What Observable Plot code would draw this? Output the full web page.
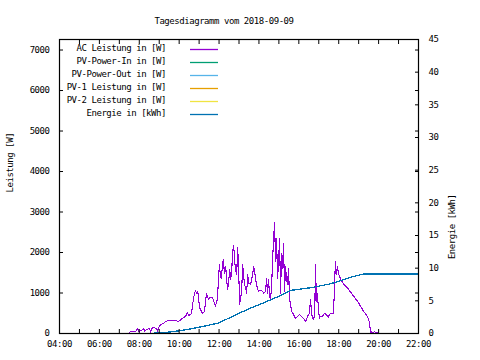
<!DOCTYPE html>
<html><head><meta charset="utf-8">
<script src="https://cdn.jsdelivr.net/npm/d3@7"></script>
<script src="https://cdn.jsdelivr.net/npm/@observablehq/plot@0.6"></script>
<style>
body{margin:0;background:#fff;}
</style>
</head><body><div id="chart"></div>
<script>
const title = "Tagesdiagramm vom 2018-09-09";
const yLabel = "Leistung [W]";
const y2Label = "Energie [kWh]";
const seriesLabels = ["AC Leistung in [W]", "PV-Power-In in [W]", "PV-Power-Out in [W]", "PV-1 Leistung in [W]", "PV-2 Leistung in [W]", "Energie in [kWh]"];
const seriesColors = ["#9400d3", "#009e73", "#56b4e9", "#e69f00", "#f0e442", "#0072b2"];

const acTime = ["07:28","07:34","07:49","07:55","07:58","08:07","08:13","08:16","08:22","08:31","08:34","08:37","08:43","08:52","08:55","08:58","09:04","09:13","09:19","09:28","09:49","09:58","10:10","10:19","10:25","10:28","10:34","10:37","10:40","10:43","10:49","10:52","10:55","10:58","11:01","11:10","11:16","11:22","11:28","11:34","11:40","11:43","11:49","11:55","11:58","12:01","12:04","12:07","12:10","12:13","12:16","12:20","12:23","12:26","12:29","12:32","12:35","12:38","12:41","12:44","12:47","12:50","12:53","12:56","12:59","13:02","13:05","13:08","13:11","13:14","13:17","13:20","13:23","13:26","13:29","13:35","13:38","13:41","13:44","13:47","13:50","13:56","13:59","14:05","14:11","14:14","14:20","14:23","14:26","14:29","14:32","14:35","14:38","14:41","14:44","14:47","14:50","14:53","14:56","14:59","15:02","15:05","15:08","15:11","15:14","15:17","15:20","15:23","15:26","15:29","15:32","15:35","15:38","15:44","15:50","15:56","16:02","16:08","16:14","16:20","16:23","16:29","16:32","16:35","16:38","16:41","16:44","16:48","16:50","16:53","16:56","16:59","17:02","17:05","17:11","17:17","17:23","17:29","17:32","17:38","17:44","17:47","17:50","17:53","17:56","17:59","18:06","18:15","18:27","18:36","18:45","18:57","19:06","19:15","19:24","19:30","19:33","19:36","19:39","19:42","19:48","19:51","19:57","20:00"];
const acPower = [0,50,50,124,50,74,124,50,99,124,25,124,149,124,50,149,223,248,298,322,322,298,372,422,521,446,471,496,670,868,1066,992,1042,942,645,496,546,992,843,893,893,818,670,843,1290,1711,1414,1364,1662,1835,1488,1662,1290,1091,1290,1587,1339,1538,2034,2182,1786,1538,1463,2133,1538,719,893,1042,1711,1414,1215,1116,992,1463,1240,1215,1339,1463,1662,1538,1339,1091,1042,1066,1042,992,1042,1364,992,1339,893,843,1166,1786,2331,2728,1786,2356,1364,1736,2356,992,1984,1612,2232,1042,1662,1339,1215,1612,868,719,546,471,372,422,471,422,372,298,347,471,496,843,546,372,347,471,1711,794,992,595,372,422,422,496,471,397,471,496,496,1042,1786,1463,1662,1488,1339,1215,1116,1017,918,794,670,546,446,347,248,0,50,0,50,0,25,0];

const energyTime = ["08:28","09:19","09:58","10:34","11:04","11:58","12:44","13:05","13:35","14:14","15:05","15:35","16:35","17:35","18:06","18:36","19:15","22:00"];
const energyKWh = [0,0.15,0.4,0.7,1.0,1.6,2.7,3.2,3.9,4.7,5.8,6.6,7.0,7.6,8.1,8.6,9.12,9.12];

const xTicks = ["04:00","05:00","06:00","07:00","08:00","09:00","10:00","11:00","12:00","13:00","14:00","15:00","16:00","17:00","18:00","19:00","20:00","21:00","22:00"];
const xDomain = ["04:00","22:00"];
const yTicks = [0,1000,2000,3000,4000,5000,6000,7000];
const y2Ticks = [0,5,10,15,20,25,30,35,40,45];
const yMax = 7260;
const y2Max = 45;

const parse = d3.utcParse("%H:%M");
const fmt = d3.utcFormat("%H:%M");
const k = yMax / y2Max;
const ac = acTime.map((t, i) => ({t: parse(t), v: acPower[i]}));
const en = energyTime.map((t, i) => ({t: parse(t), v: energyKWh[i] * k}));
const xt = xTicks.map(parse);
const font = "'DejaVu Sans Mono', monospace";

const plot = Plot.plot({
  width: 480, height: 360,
  marginTop: 39, marginBottom: 27, marginLeft: 59, marginRight: 62,
  style: {fontFamily: font, fontSize: "9px", letterSpacing: "-0.45px", color: "#000", background: "#fff"},
  x: {type: "utc", domain: xDomain.map(parse)},
  y: {domain: [0, yMax]},
  marks: [
    Plot.line(ac, {x: "t", y: "v", stroke: seriesColors[0], strokeWidth: 1.1, shapeRendering: "crispEdges"}),
    Plot.line(en, {x: "t", y: "v", stroke: seriesColors[5], strokeWidth: 1.3, shapeRendering: "crispEdges"}),
    Plot.frame({stroke: "#000", strokeWidth: 1.2}),
    Plot.axisX({anchor: "bottom", ticks: xt, tickSize: -4, tickPadding: 11, tickFormat: d => d.getUTCHours() % 2 === 0 ? fmt(d) : "", label: null}),
    Plot.axisX({anchor: "top", ticks: xt, tickSize: -4, tickFormat: () => "", label: null}),
    Plot.axisY({anchor: "left", ticks: yTicks, tickSize: -4, tickPadding: 14, tickFormat: d => String(d), label: null}),
    Plot.axisY({anchor: "right", ticks: yTicks, tickSize: -4, tickFormat: () => "", label: null}),
    Plot.axisY({anchor: "right", ticks: y2Ticks.map(v => v * k), tickSize: -4, tickPadding: 14, tickFormat: d => String(Math.round(d / k)), label: null}),
    Plot.text([title], {frameAnchor: "top", dy: -22, dx: -15}),
    Plot.text([yLabel], {frameAnchor: "left", dx: -49, dy: 6, rotate: -90}),
    Plot.text([y2Label], {frameAnchor: "right", dx: 34, dy: 8, rotate: -90})
  ]
});

const svg = d3.select(plot);
const g = svg.append("g").attr("font-family", font).attr("font-size", "9px").attr("letter-spacing", "-0.45px");
seriesLabels.forEach((s, i) => {
  g.append("text").attr("x", 166).attr("y", 47.5 + 13 * i).attr("dy", "0.35em").attr("text-anchor", "end").attr("fill", "#000").text(s);
  g.append("line").attr("x1", 190).attr("x2", 218).attr("y1", 49.5 + 13 * i).attr("y2", 49.5 + 13 * i).attr("stroke", seriesColors[i]).attr("stroke-width", 1.3);
});
document.getElementById("chart").appendChild(plot);
</script>
</body></html>
